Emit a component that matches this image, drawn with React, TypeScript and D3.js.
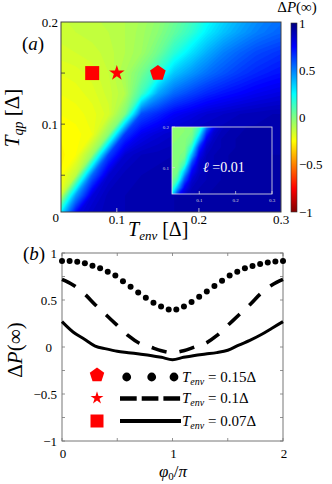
import React, { useMemo } from "react";
import * as d3 from "d3";

// ---- panel (a): heat map samples, columns = T_env, rows = T_qp (top to bottom)
const heatEnv = [0.03, 0.05, 0.07, 0.09, 0.11, 0.13, 0.15, 0.17, 0.19, 0.21, 0.23, 0.25, 0.27, 0.29, 0.31];
const heatQp = [0.21, 0.19, 0.17, 0.15, 0.13, 0.11, 0.09, 0.07, 0.05, 0.03, 0.01];
const heatRows = [
  [-0.14, -0.13, -0.12, -0.11, -0.1, -0.08, -0.04, 0.02, 0.1, 0.2, 0.3, 0.38, 0.45, 0.5, 0.53],
  [-0.15, -0.14, -0.13, -0.12, -0.1, -0.07, -0.02, 0.06, 0.15, 0.28, 0.37, 0.44, 0.5, 0.54, 0.57],
  [-0.17, -0.16, -0.15, -0.13, -0.1, -0.06, 0.03, 0.17, 0.3, 0.41, 0.5, 0.56, 0.61, 0.64, 0.67],
  [-0.2, -0.19, -0.17, -0.14, -0.08, 0.02, 0.16, 0.36, 0.45, 0.53, 0.59, 0.64, 0.68, 0.71, 0.73],
  [-0.22, -0.21, -0.19, -0.15, -0.1, 0.12, 0.42, 0.55, 0.62, 0.68, 0.72, 0.75, 0.78, 0.8, 0.82],
  [-0.24, -0.23, -0.21, -0.17, 0.0, 0.6, 0.68, 0.76, 0.8, 0.84, 0.86, 0.88, 0.89, 0.9, 0.9],
  [-0.26, -0.25, -0.22, -0.02, 0.64, 0.78, 0.83, 0.86, 0.88, 0.89, 0.9, 0.91, 0.91, 0.91, 0.91],
  [-0.27, -0.24, -0.05, 0.62, 0.84, 0.88, 0.89, 0.9, 0.9, 0.91, 0.91, 0.91, 0.92, 0.92, 0.92],
  [-0.26, -0.12, 0.55, 0.84, 0.89, 0.9, 0.91, 0.91, 0.91, 0.92, 0.92, 0.92, 0.92, 0.92, 0.92],
  [-0.2, 0.45, 0.82, 0.89, 0.9, 0.91, 0.91, 0.92, 0.92, 0.92, 0.92, 0.92, 0.92, 0.92, 0.92],
  [0.3, 0.8, 0.87, 0.89, 0.9, 0.91, 0.91, 0.92, 0.92, 0.92, 0.92, 0.92, 0.92, 0.92, 0.92],
];

// inset (l = 0.01)
const insetEnv = [0.02, 0.04, 0.06, 0.08, 0.1, 0.12, 0.14, 0.16, 0.18, 0.2, 0.22, 0.24, 0.26, 0.28, 0.3];
const insetQp = [0.21, 0.19, 0.17, 0.15, 0.13, 0.11, 0.09, 0.07, 0.05, 0.03];
const insetRows = [
  [-0.03, -0.03, -0.02, -0.01, 0.08, 0.35, 0.68, 0.84, 0.89, 0.9, 0.91, 0.92, 0.92, 0.92, 0.92],
  [-0.03, -0.03, -0.02, 0.0, 0.18, 0.62, 0.83, 0.88, 0.9, 0.91, 0.92, 0.92, 0.92, 0.92, 0.92],
  [-0.03, -0.02, -0.01, 0.04, 0.4, 0.78, 0.87, 0.9, 0.91, 0.92, 0.92, 0.92, 0.92, 0.92, 0.92],
  [-0.02, -0.02, -0.01, 0.18, 0.66, 0.85, 0.89, 0.9, 0.91, 0.92, 0.92, 0.92, 0.92, 0.92, 0.92],
  [-0.02, -0.01, 0.02, 0.4, 0.78, 0.88, 0.9, 0.91, 0.92, 0.92, 0.92, 0.92, 0.92, 0.92, 0.92],
  [-0.02, -0.01, 0.12, 0.62, 0.85, 0.89, 0.9, 0.91, 0.92, 0.92, 0.92, 0.92, 0.92, 0.92, 0.92],
  [-0.01, 0.02, 0.38, 0.76, 0.87, 0.9, 0.91, 0.92, 0.92, 0.92, 0.92, 0.92, 0.92, 0.92, 0.92],
  [-0.01, 0.12, 0.6, 0.84, 0.89, 0.9, 0.91, 0.92, 0.92, 0.92, 0.92, 0.92, 0.92, 0.92, 0.92],
  [0.03, 0.4, 0.78, 0.88, 0.9, 0.91, 0.92, 0.92, 0.92, 0.92, 0.92, 0.92, 0.92, 0.92, 0.92],
  [0.25, 0.72, 0.86, 0.9, 0.91, 0.92, 0.92, 0.92, 0.92, 0.92, 0.92, 0.92, 0.92, 0.92, 0.92],
];

const markerEnv = [0.07, 0.1, 0.15];
const markerQp = 0.15;
const markerShape = ["square", "star", "pentagon"];

const aTicksX = [0.1, 0.2, 0.3];
const aTicksY = [0.1, 0.2];
const aMinorY = [0.05, 0.1, 0.15];
const insetTicksX = [0.1, 0.2, 0.3];
const insetTicksY = [0.1, 0.2];
const cbarTicks = [1, 0.5, 0, -0.5, -1];

// ---- panel (b)
const dotsPhi = d3.range(30).map((i) => (2 * i) / 29);
const dotsVal = [
  0.915, 0.915, 0.908, 0.89, 0.865, 0.837, 0.8, 0.76, 0.7, 0.64, 0.58, 0.525, 0.47, 0.43, 0.4,
  0.4, 0.43, 0.48, 0.535, 0.59, 0.65, 0.705, 0.76, 0.8, 0.837, 0.862, 0.883, 0.9, 0.91, 0.915,
];
const linePhi = [0, 0.1, 0.2, 0.3, 0.4, 0.5, 0.6, 0.7, 0.8, 0.9, 1, 1.1, 1.2, 1.3, 1.4, 1.5, 1.6, 1.7, 1.8, 1.9, 2];
const dashedVal = [0.72, 0.66, 0.57, 0.45, 0.34, 0.23, 0.12, 0.04, 0.0, -0.04, -0.06, -0.04, 0.0, 0.04, 0.12, 0.23, 0.34, 0.45, 0.57, 0.66, 0.72];
const solidVal = [0.27, 0.16, 0.085, 0.01, -0.02, -0.045, -0.06, -0.075, -0.09, -0.11, -0.135, -0.11, -0.09, -0.075, -0.06, -0.035, 0.02, 0.07, 0.13, 0.2, 0.27];

const bTicksX = [0, 1, 2];
const bMinorX = [0, 0.5, 1, 1.5, 2];
const bTicksY = [1, 0.5, 0, -0.5, -1];
const bMinorY = [-1, -0.75, -0.5, -0.25, 0, 0.25, 0.5, 0.75, 1];
const legendLabels = ["0.15Δ", "0.1Δ", "0.07Δ"];

const FONT = "'Liberation Serif', 'DejaVu Serif', serif";
const RED = "#ff0000";

const jet = d3
  .scaleLinear<string>()
  .domain([-1, -0.75, -0.25, 0.25, 0.75, 1])
  .range(["#800000", "#ff0000", "#ffff00", "#00ffff", "#0000ff", "#000080"])
  .interpolate(d3.interpolateRgb)
  .clamp(true);

const levels = d3.range(-0.4, 0.96, 0.02);

function heatPaths(rows, cols, rowT, xs, ys) {
  const nx = cols.length;
  const ny = rowT.length;
  const dx = cols[1] - cols[0];
  const dy = rowT[1] - rowT[0];
  const proj = d3.geoTransform({
    point: function (x, y) {
      this.stream.point(xs(cols[0] + (x - 0.5) * dx), ys(rowT[0] + (y - 0.5) * dy));
    },
  });
  const path = d3.geoPath(proj);
  const cs = d3.contours().size([nx, ny]).thresholds(levels)(rows.flat());
  return cs.map((c) => ({ d: path(c), fill: jet(c.value + 0.01) }));
}

function pentagon(r) {
  const pts = d3.range(5).map((i) => {
    const a = -Math.PI / 2 + (i * 2 * Math.PI) / 5;
    return [r * Math.cos(a), r * Math.sin(a)];
  });
  return "M" + pts.map((p) => p.join(",")).join("L") + "Z";
}

function Marker({ shape, x, y, s }) {
  let d;
  if (shape === "square") d = d3.symbol(d3.symbolSquare, s * s)();
  else if (shape === "star") d = d3.symbol(d3.symbolStar, (s * s) / 0.8908)();
  else d = pentagon(s);
  return <path d={d} transform={`translate(${x},${y})`} fill={RED} />;
}

export default function App() {
  // panel (a) scales
  const xA = d3.scaleLinear().domain([0.032, 0.3]).range([61, 281]);
  const yA = d3.scaleLinear().domain([0.014, 0.2]).range([212, 22]);
  const xI = d3.scaleLinear().domain([0.025, 0.3]).range([172, 272]);
  const yI = d3.scaleLinear().domain([0.035, 0.2]).range([194, 127]);
  const yC = d3.scaleLinear().domain([-1, 1]).range([212, 23]);
  // panel (b) scales
  const xB = d3.scaleLinear().domain([0, 2]).range([62, 283]);
  const yB = d3.scaleLinear().domain([-1, 1]).range([441, 253]);

  const mainHeat = useMemo(() => heatPaths(heatRows, heatEnv, heatQp, xA, yA), []);
  const insetHeat = useMemo(() => heatPaths(insetRows, insetEnv, insetQp, xI, yI), []);

  const line = d3
    .line<number>()
    .x((_, i) => xB(linePhi[i]))
    .y((d) => yB(d))
    .curve(d3.curveMonotoneX);

  const legendY = [375, 398, 421];

  return (
    <svg
      width={332}
      height={484}
      style={{ position: "fixed", left: 0, top: 0, background: "#fff" }}
      fontFamily={FONT}
    >
      <defs>
        <clipPath id="clipA">
          <rect x={61} y={22} width={220} height={190} />
        </clipPath>
        <clipPath id="clipI">
          <rect x={172} y={127} width={100} height={67} />
        </clipPath>
        <linearGradient id="cbar" x1="0" y1="0" x2="0" y2="1">
          {[1, 0.75, 0.25, -0.25, -0.75, -1].map((v) => (
            <stop key={v} offset={`${((1 - v) / 2) * 100}%`} stopColor={jet(v)} />
          ))}
        </linearGradient>
      </defs>

      {/* ---------- panel (a) ---------- */}
      <g clipPath="url(#clipA)">
        {mainHeat.map((p, i) => (
          <path key={i} d={p.d} fill={p.fill} />
        ))}
      </g>
      <g clipPath="url(#clipI)">
        {insetHeat.map((p, i) => (
          <path key={i} d={p.d} fill={p.fill} />
        ))}
      </g>
      <rect x={172} y={127} width={100} height={67} fill="none" stroke="#e8e8e8" strokeWidth={0.8} />
      {insetTicksX.map((t) => (
        <g key={t}>
          <line x1={xI(t)} x2={xI(t)} y1={194} y2={191} stroke="#ddd" strokeWidth={0.7} />
          <text x={xI(t)} y={202} fontSize={5} fill="#ddd" textAnchor="middle">
            {t}
          </text>
        </g>
      ))}
      {insetTicksY.map((t) => (
        <g key={t}>
          <line x1={172} x2={175} y1={yI(t)} y2={yI(t)} stroke="#ddd" strokeWidth={0.7} />
          <text x={169} y={yI(t) + 2} fontSize={5} fill="#ddd" textAnchor="end">
            {t}
          </text>
        </g>
      ))}
      <text x={203} y={172} fontSize={14} fill="#fff">
        <tspan fontStyle="italic">ℓ</tspan> =0.01
      </text>

      <rect x={61} y={22} width={220} height={190} fill="none" stroke="#444" strokeWidth={1} />
      {aMinorY.map((t) => (
        <line key={t} x1={61} x2={65} y1={yA(t)} y2={yA(t)} stroke="#333" strokeWidth={0.8} />
      ))}
      {aTicksX.slice(0, 2).map((t) => (
        <line key={t} x1={xA(t)} x2={xA(t)} y1={212} y2={208} stroke="#ddd" strokeWidth={0.8} />
      ))}
      {aTicksX.map((t) => (
        <text key={t} x={xA(t)} y={224} fontSize={13} textAnchor="middle">
          {t}
        </text>
      ))}
      {aTicksY.map((t) => (
        <text key={t} x={58} y={yA(t) + 4.5} fontSize={13} textAnchor="end">
          {t}
        </text>
      ))}
      <text x={59} y={222} fontSize={13} textAnchor="end">
        0
      </text>

      {markerEnv.map((t, i) => (
        <Marker key={t} shape={markerShape[i]} x={xA(t)} y={yA(markerQp)} s={i === 0 ? 14 : 8.2} />
      ))}

      <text x={22} y={50} fontSize={19}>
        (<tspan fontStyle="italic">a</tspan>)
      </text>
      <text x={128} y={236} fontSize={20}>
        <tspan fontStyle="italic">T</tspan>
        <tspan fontStyle="italic" fontSize={13} dy={4}>
          env
        </tspan>
        <tspan dy={-4}> [Δ]</tspan>
      </text>
      <text transform="translate(19,118) rotate(-90)" fontSize={21} textAnchor="middle">
        <tspan fontStyle="italic">T</tspan>
        <tspan fontStyle="italic" fontSize={14} dy={4}>
          qp
        </tspan>
        <tspan dy={-4}> [Δ]</tspan>
      </text>

      {/* colorbar */}
      <rect x={291} y={23} width={6} height={189} fill="url(#cbar)" stroke="#333" strokeWidth={0.6} />
      {cbarTicks.map((t) => (
        <text key={t} x={299} y={yC(t) + 4.5} fontSize={13}>
          {t < 0 ? "−" + Math.abs(t) : t}
        </text>
      ))}
      <text x={297} y={12} fontSize={15} textAnchor="middle">
        Δ<tspan fontStyle="italic">P</tspan>(∞)
      </text>

      {/* ---------- panel (b) ---------- */}
      <rect x={62} y={253} width={221} height={188} fill="none" stroke="#777" strokeWidth={1} />
      {bMinorX.map((t) => (
        <g key={t} stroke="#777" strokeWidth={0.8}>
          <line x1={xB(t)} x2={xB(t)} y1={441} y2={438} />
          <line x1={xB(t)} x2={xB(t)} y1={253} y2={256} />
        </g>
      ))}
      {bMinorY.map((t) => (
        <g key={t} stroke="#777" strokeWidth={0.8}>
          <line x1={62} x2={65} y1={yB(t)} y2={yB(t)} />
          <line x1={283} x2={280} y1={yB(t)} y2={yB(t)} />
        </g>
      ))}
      {bTicksX.map((t) => (
        <text key={t} x={xB(t) + 1} y={458} fontSize={13} textAnchor="middle">
          {t}
        </text>
      ))}
      {bTicksY.map((t) => (
        <text key={t} x={t === 0 ? 52 : 57} y={yB(t) + 4.5} fontSize={13} textAnchor="end">
          {t < 0 ? "−" + Math.abs(t) : t}
        </text>
      ))}

      <path d={line(solidVal)} fill="none" stroke="#000" strokeWidth={3} />
      <path d={line(dashedVal)} fill="none" stroke="#000" strokeWidth={3.6} strokeDasharray="15.5 13" />
      {dotsPhi.map((p, i) => (
        <circle key={i} cx={xB(p)} cy={yB(dotsVal[i])} r={3} fill="#000" />
      ))}

      {/* legend */}
      {[0, 1, 2].map((i) => (
        <Marker
          key={i}
          shape={markerShape[2 - i]}
          x={97}
          y={legendY[i]}
          s={i === 0 ? 7.6 : i === 1 ? 6.8 : 13}
        />
      ))}
      {[126.7, 151.7, 174].map((x) => (
        <circle key={x} cx={x} cy={377} r={4.4} fill="#000" />
      ))}
      <line x1={120} x2={181} y1={398.5} y2={398.5} stroke="#000" strokeWidth={4.5} strokeDasharray="16.7 5" />
      <line x1={120} x2={181} y1={421} y2={421} stroke="#000" strokeWidth={4} />
      {legendLabels.map((l, i) => (
        <text key={l} x={182} y={[382, 403, 426][i]} fontSize={15}>
          <tspan fontStyle="italic">T</tspan>
          <tspan fontStyle="italic" fontSize={10} dy={3}>
            env
          </tspan>
          <tspan dy={-3}> = {l}</tspan>
        </text>
      ))}

      <text x={23} y={260} fontSize={19}>
        (<tspan fontStyle="italic">b</tspan>)
      </text>
      <text x={173} y={477} fontSize={17} textAnchor="middle">
        <tspan fontStyle="italic">φ</tspan>
        <tspan fontSize={11} dy={3}>
          0
        </tspan>
        <tspan dy={-3}>/</tspan>
        <tspan fontStyle="italic">π</tspan>
      </text>
      <text transform="translate(22,350) rotate(-90)" fontSize={21} textAnchor="middle">
        Δ<tspan fontStyle="italic">P</tspan>(∞)
      </text>
    </svg>
  );
}
